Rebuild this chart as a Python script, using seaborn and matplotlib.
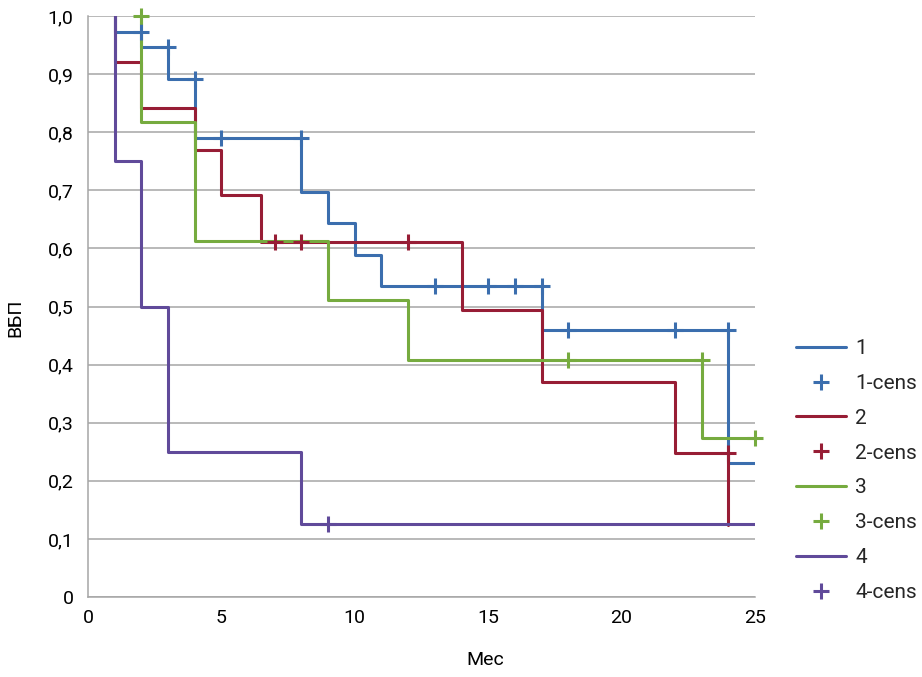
import matplotlib
matplotlib.use("Agg")
import matplotlib.pyplot as plt
import matplotlib.font_manager as fm
from matplotlib.lines import Line2D
import seaborn as sns
import pandas as pd

# ---- data ----
groups = ["1", "2", "3", "4"]
colors = {"1": "#3B6EAE", "2": "#971D35", "3": "#76AB3F", "4": "#604A9A"}

t1 = [1, 1, 2, 3, 4, 8, 9, 10, 11, 17, 24, 25]
s1 = [1.0, 0.973, 0.946, 0.892, 0.790, 0.697, 0.644, 0.589, 0.535, 0.459, 0.230, 0.230]
t2 = [1, 1, 2, 4, 5, 6.5, 14, 17, 22, 24]
s2 = [1.0, 0.921, 0.842, 0.769, 0.692, 0.611, 0.494, 0.370, 0.247, 0.124]
t3 = [2, 2, 4, 9, 12, 23, 25]
s3 = [1.0, 0.818, 0.613, 0.511, 0.408, 0.273, 0.273]
t4 = [1, 1, 2, 3, 8, 25]
s4 = [1.0, 0.750, 0.500, 0.250, 0.125, 0.125]

c1x = [2, 3, 4, 5, 8, 13, 15, 16, 17, 18, 22, 24]
c1y = [0.973, 0.946, 0.892, 0.790, 0.790, 0.535, 0.535, 0.535, 0.535, 0.459, 0.459, 0.459]
c2x = [7, 8, 12, 24]
c2y = [0.611, 0.611, 0.611, 0.247]
c3x = [2, 18, 23, 25]
c3y = [1.0, 0.408, 0.408, 0.273]
c4x = [9]
c4y = [0.125]

xticks = [0, 5, 10, 15, 20, 25]
yticks = [0, 0.1, 0.2, 0.3, 0.4, 0.5, 0.6, 0.7, 0.8, 0.9, 1.0]
ytick_labels = ["0", "0,1", "0,2", "0,3", "0,4", "0,5", "0,6", "0,7", "0,8", "0,9", "1,0"]
xlabel = "Мес"
ylabel = "ВБП"

curves = {"1": (t1, s1), "2": (t2, s2), "3": (t3, s3), "4": (t4, s4)}
cens = {"1": (c1x, c1y), "2": (c2x, c2y), "3": (c3x, c3y), "4": (c4x, c4y)}

# ---- style ----
sns.set_style("white")
names = {f.name for f in fm.fontManager.ttflist}
fam = "Liberation Sans Narrow" if "Liberation Sans Narrow" in names else "Roboto"
plt.rcParams["font.family"] = [fam, "DejaVu Sans"]

grid_c = "#A6A6A6"
lw = 2.2

fig = plt.figure(figsize=(9.22, 6.77), dpi=100)
ax = fig.add_axes([88 / 922, 80 / 677, 667 / 922, 581 / 677])

for g in groups:
    t, s = curves[g]
    df = pd.DataFrame({"t": t, "s": s})
    sns.lineplot(data=df, x="t", y="s", ax=ax, color=colors[g], linewidth=lw,
                 drawstyle="steps-post", estimator=None, sort=False, zorder=3)
    cx, cy = cens[g]
    ax.plot(cx, cy, linestyle="none", marker="+", markersize=12, mew=lw,
            color=colors[g], clip_on=False, zorder=4)

ax.set_xlim(0, 25)
ax.set_ylim(0, 1.0)
ax.set_xticks(xticks)
ax.set_xticklabels([str(x) for x in xticks])
ax.set_yticks(yticks)
ax.set_yticklabels(ytick_labels)

ax.yaxis.grid(True, color=grid_c, linewidth=1.1)
ax.xaxis.grid(False)
ax.set_axisbelow(True)
for side in ["top", "right"]:
    ax.spines[side].set_visible(False)
for side in ["left", "bottom"]:
    ax.spines[side].set_color(grid_c)
    ax.spines[side].set_linewidth(1.1)

ax.tick_params(axis="both", which="major", length=4.5, width=1.1, color=grid_c,
               labelsize=14, labelcolor="black", direction="out")
ax.tick_params(axis="y", pad=6)
ax.tick_params(axis="x", pad=4)

ax.set_xlabel(xlabel, fontsize=14, color="black")
ax.set_ylabel(ylabel, fontsize=14, color="black")
ax.xaxis.set_label_coords(0.595, -0.093)
ax.yaxis.set_label_coords(-0.095, 0.48)

handles = []
labels = []
for g in groups:
    handles.append(Line2D([], [], color=colors[g], linewidth=lw))
    labels.append(g)
    handles.append(Line2D([], [], color=colors[g], linestyle="none", marker="+",
                          markersize=12, mew=lw))
    labels.append(g + "-cens")

leg = fig.legend(handles, labels, loc="upper left",
                 bbox_to_anchor=(796 / 922, 1 - 339 / 677),
                 frameon=False, fontsize=15, handlelength=2.4, handletextpad=0.45,
                 labelspacing=0.76, borderpad=0, borderaxespad=0)

fig.savefig("out.png", dpi=100)
